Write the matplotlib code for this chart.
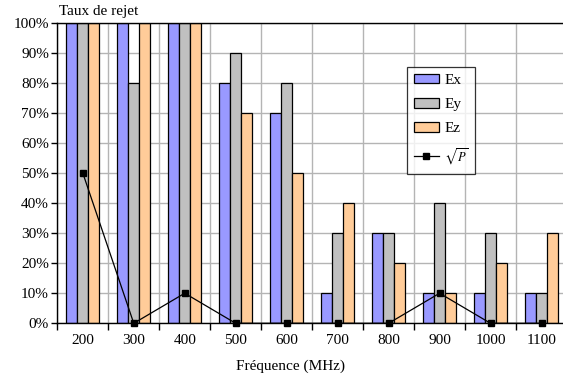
import matplotlib
matplotlib.use("Agg")
import matplotlib.pyplot as plt
import numpy as np
from matplotlib.ticker import FixedLocator, PercentFormatter

plt.rcParams['font.family'] = ['Liberation Serif', 'DejaVu Serif']
plt.rcParams['mathtext.fontset'] = 'stix'

categories = ['200', '300', '400', '500', '600', '700', '800', '900', '1000', '1100']
ex = [100, 100, 100, 80, 70, 10, 30, 10, 10, 10]
ey = [100, 80, 100, 90, 80, 30, 30, 40, 30, 10]
ez = [100, 100, 100, 70, 50, 40, 20, 10, 20, 30]
sqrt_p = [50, 0, 10, 0, 0, 0, 0, 10, 0, 0]

FS = 11
fig = plt.figure(figsize=(5.63, 3.83), dpi=100)
W, H = 563, 383
left, right, top, bottom = 57.3, 567.0, 22.7, 323.3
ax = fig.add_axes([left / W, 1 - bottom / H, (right - left) / W, (bottom - top) / H])

x = np.arange(len(categories))
bw = 0.218
col_ex, col_ey, col_ez = '#9999FF', '#C0C0C0', '#FFCC99'
b1 = ax.bar(x - bw, ex, bw, color=col_ex, edgecolor='black', linewidth=0.9, label='Ex', zorder=2)
b2 = ax.bar(x, ey, bw, color=col_ey, edgecolor='black', linewidth=0.9, label='Ey', zorder=2)
b3 = ax.bar(x + bw, ez, bw, color=col_ez, edgecolor='black', linewidth=0.9, label='Ez', zorder=2)
ln, = ax.plot(x, sqrt_p, color='black', linewidth=0.9, marker='s', markersize=4.5,
              label=r'$\sqrt{P}$', zorder=4, clip_on=False)

ax.set_xlim(-0.5, len(categories) - 0.5)
ax.set_ylim(0, 100)

ax.xaxis.set_major_locator(FixedLocator(x))
ax.set_xticklabels(categories, fontsize=FS)
ax.xaxis.set_minor_locator(FixedLocator(np.arange(len(categories) + 1) - 0.5))
ax.tick_params(axis='x', which='major', length=0, pad=8)
ax.tick_params(axis='x', which='minor', length=5, width=1, direction='out', color='black')
ax.yaxis.set_major_locator(FixedLocator(np.arange(0, 101, 10)))
ax.yaxis.set_major_formatter(PercentFormatter(decimals=0))
ax.tick_params(axis='y', length=4, width=1, direction='out', labelsize=FS, pad=2)

ax.grid(axis='y', which='major', color='#B4B4B4', linewidth=1)
ax.grid(axis='x', which='minor', color='#B4B4B4', linewidth=1)
ax.set_axisbelow(True)

for s in ['left', 'bottom', 'top']:
    ax.spines[s].set_color('black')
    ax.spines[s].set_linewidth(1)
ax.spines['right'].set_visible(False)

fig.text(290 / W, 1 - 366 / H, 'Fréquence (MHz)', fontsize=FS, ha='center', va='center')
fig.text(59 / W, 1 - 11 / H, 'Taux de rejet', fontsize=FS, ha='left', va='center')

leg = ax.legend([b1, b2, b3, ln], ['Ex', 'Ey', 'Ez', r'$\sqrt{P}$'],
                loc='upper left',
                bbox_to_anchor=((406.7 - left) / (right - left), 1 - (66.7 - top) / (bottom - top)),
                frameon=True, fancybox=False, fontsize=FS, handlelength=1.65, handleheight=0.6,
                labelspacing=0.72, borderpad=0.45, handletextpad=0.35, borderaxespad=0)
leg.get_frame().set_edgecolor('black')
leg.get_frame().set_linewidth(0.9)
leg.get_texts()[3].set_fontsize(9)

fig.savefig('out.png', dpi=100)
